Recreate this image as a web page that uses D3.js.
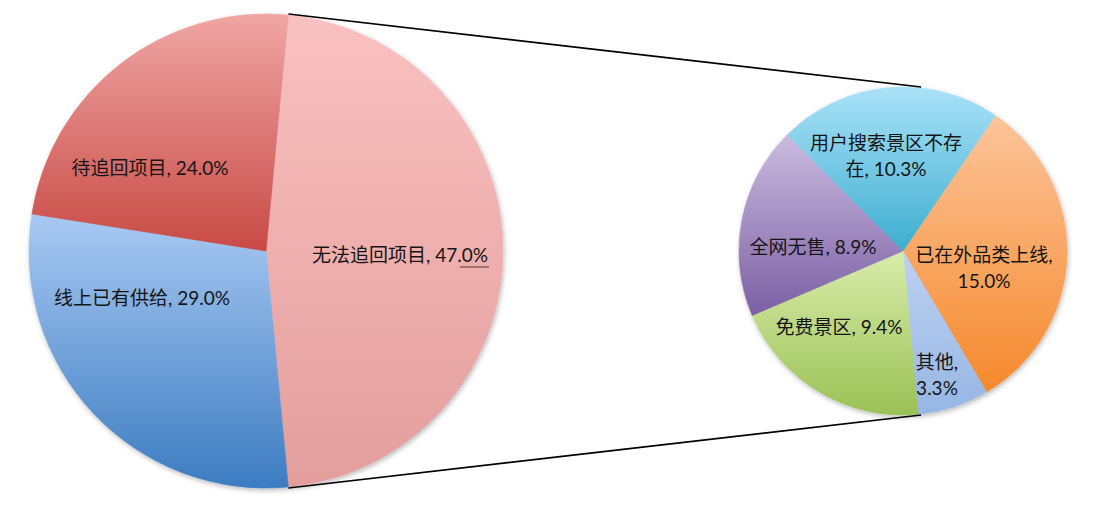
<!DOCTYPE html>
<html>
<head>
<meta charset="utf-8">
<script src="https://cdn.jsdelivr.net/npm/d3@7"></script>
<style>
  html, body { margin: 0; padding: 0; background: #fff; }
  svg { display: block; }
  text { font-family: "Lato", "Noto Sans CJK SC", sans-serif; fill: #151515; }
</style>
</head>
<body>
<svg id="chart" width="1104" height="524"></svg>
<script>
// ---- data ----
const mainCategories = ["无法追回项目", "线上已有供给", "待追回项目"];
const mainValues = [47.0, 29.0, 24.0];
const detailCategories = ["已在外品类上线", "其他", "免费景区", "全网无售", "用户搜索景区不存在"];
const detailValues = [15.0, 3.3, 9.4, 8.9, 10.3];

// ---- styles (gradient top -> bottom) ----
const mainColors = [["#F9C1C0", "#E39E9C"], ["#A9C9F3", "#3C7CC1"], ["#F0A6A4", "#C84A45"]];
const detailColors = [["#FCC49A", "#F5892C"], ["#BCD2F2", "#97B6E4"], ["#D9ECAB", "#9AC155"], ["#CABBDF", "#7B5FA4"], ["#AAE2F8", "#3DAED0"]];

// label layout: offset of label block centre from pie centre, and line-break position (chars before break, -1 = none)
const mainLabelLayout = [[134, 4, -1], [-124, 47, -1], [-116, -83, -1]];
const detailLabelLayout = [[81, 17, 8], [34, 124, 3], [-64, 76, -1], [-90, -4, -1], [-17, -95, 8]];

const svg = d3.select("#chart");
const defs = svg.append("defs");
const f = defs.append("filter").attr("id", "shadow").attr("x", "-10%").attr("y", "-10%").attr("width", "120%").attr("height", "120%");
f.append("feDropShadow").attr("dx", 1).attr("dy", 2).attr("stdDeviation", 2.5).attr("flood-color", "#000").attr("flood-opacity", 0.28);

function grad(id, c) {
  const g = defs.append("linearGradient").attr("id", id)
    .attr("x1", 0).attr("y1", 0).attr("x2", 0).attr("y2", 1);
  g.append("stop").attr("offset", "0%").attr("stop-color", c[0]);
  g.append("stop").attr("offset", "100%").attr("stop-color", c[1]);
}

const deg = Math.PI / 180;
const mainC = { x: 266, y: 251, r: 237 };
const detC = { x: 903, y: 251, r: 164 };

const mainTotal = d3.sum(mainValues);
const mainStart = Math.PI / 2 - (mainValues[0] / mainTotal) * Math.PI;
const mainPie = d3.pie().sort(null).startAngle(mainStart).endAngle(mainStart + 2 * Math.PI);
const mainArcs = mainPie(mainValues);

const detTotal = d3.sum(detailValues);
// boundary between "其他" and "免费景区" sits at the bottom connector point
const detStart = 174.7 * deg - ((detailValues[0] + detailValues[1]) / detTotal) * 2 * Math.PI;
const detPie = d3.pie().sort(null).startAngle(detStart).endAngle(detStart + 2 * Math.PI);
const detArcs = detPie(detailValues);

mainColors.forEach((c, i) => grad("mg" + i, c));
detailColors.forEach((c, i) => grad("dg" + i, c));

// connector lines between aggregated slice and secondary pie
const aggA0 = mainArcs[0].startAngle, aggA1 = mainArcs[0].endAngle;
const connAngle = 6.3 * deg;
const pt = (c, a, r) => [c.x + r * Math.sin(a), c.y - r * Math.cos(a)];
const conns = [
  [pt(mainC, aggA0, mainC.r + 1), pt(detC, connAngle, detC.r + 1)],
  [pt(mainC, aggA1, mainC.r + 1), pt(detC, Math.PI - connAngle, detC.r + 1)]
];

function drawPie(c, arcs, prefix, id) {
  const arc = d3.arc().innerRadius(0).outerRadius(c.r);
  const g = svg.append("g").attr("transform", `translate(${c.x},${c.y})`).attr("filter", "url(#shadow)");
  g.selectAll("path").data(arcs).join("path")
    .attr("d", arc)
    .attr("fill", (d, i) => `url(#${prefix}${i})`)
    .attr("stroke", (d, i) => `url(#${prefix}${i})`)
    .attr("stroke-width", 0.6);
  return g;
}

drawPie(mainC, mainArcs, "mg");
drawPie(detC, detArcs, "dg");

svg.append("g").selectAll("line").data(conns).join("line")
  .attr("x1", d => d[0][0]).attr("y1", d => d[0][1])
  .attr("x2", d => d[1][0]).attr("y2", d => d[1][1])
  .attr("stroke", "#000").attr("stroke-width", 1.6);

function labels(c, cats, vals, layout) {
  const lh = 26;
  cats.forEach((name, i) => {
    const full = `${name}, ${vals[i].toFixed(1)}%`;
    const br = layout[i][2];
    let lines;
    if (br < 0) lines = [full];
    else {
      const pos = br === 3 ? name.length + 1 : br;
      lines = [full.slice(0, pos).trim(), full.slice(pos).trim()];
    }
    const cx = c.x + layout[i][0];
    const cy = c.y + layout[i][1] - (lines.length - 1) * lh / 2;
    const t = svg.append("text").attr("text-anchor", "middle").attr("font-size", 19);
    lines.forEach((ln, k) => {
      t.append("tspan").attr("x", cx).attr("y", cy + k * lh).attr("dy", "0.36em").text(ln);
    });
  });
}
labels(mainC, mainCategories, mainValues, mainLabelLayout);
// detail labels: break after full name+comma for 其他 / 已在外品类上线, after 8 chars for the long name
(function () {
  const lh = 26;
  detailCategories.forEach((name, i) => {
    const v = `${detailValues[i].toFixed(1)}%`;
    let lines;
    if (name.length > 7) lines = [name.slice(0, 8), `${name.slice(8)}, ${v}`];
    else if (detailLabelLayout[i][2] > 0) lines = [`${name},`, v];
    else lines = [`${name}, ${v}`];
    const cx = detC.x + detailLabelLayout[i][0];
    const cy = detC.y + detailLabelLayout[i][1] - (lines.length - 1) * lh / 2;
    const t = svg.append("text").attr("text-anchor", "middle").attr("font-size", 19);
    lines.forEach((ln, k) => {
      t.append("tspan").attr("x", cx).attr("y", cy + k * lh).attr("dy", "0.36em").text(ln);
    });
  });
})();

// small leader line under the 47.0% label
(function () {
  const cx = mainC.x + mainLabelLayout[0][0];
  const cy = mainC.y + mainLabelLayout[0][1];
  svg.append("line")
    .attr("x1", cx + 60).attr("x2", cx + 89)
    .attr("y1", cy + 12).attr("y2", cy + 12)
    .attr("stroke", "#6E4646").attr("stroke-width", 1.2);
})();
</script>
</body>
</html>
